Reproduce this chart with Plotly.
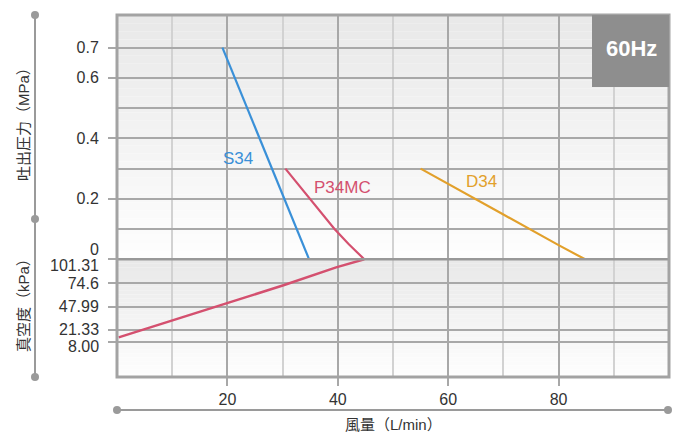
import plotly.graph_objects as go
from plotly.subplots import make_subplots

# flow in L/min, discharge pressure in MPa, vacuum as absolute kPa
s34_flow = [19.1, 34.8]
s34_press = [0.7, 0.0]

p34mc_flow = [30.5, 32.7, 35.0, 37.2, 39.4, 42.0, 44.8]
p34mc_press = [0.3, 0.25, 0.2, 0.15, 0.1, 0.05, 0.0]
p34mc_vac_flow = [0.3, 10.3, 20.0, 30.3, 39.7, 44.8]
p34mc_vac_kpa = [13.6, 33.1, 51.8, 72.4, 92.3, 101.31]

d34_flow = [55.0, 64.7, 70.0, 80.0, 84.8]
d34_press = [0.3, 0.2, 0.148, 0.047, 0.0]

press_ticks = [0, 0.2, 0.4, 0.6, 0.7]
press_labels = ["", "0.2", "0.4", "0.6", "0.7"]
vac_ticks = [101.31, 74.6, 47.99, 21.33, 8.0]
vac_labels = ["", "74.6", "47.99", "", ""]

BLUE = "#3a90d8"
PINK = "#d4506f"
ORANGE = "#e2a02b"
GRID = "#a8a8a8"
GRID_LIGHT = "#d2d2d2"
TXT = "#333333"
FONT = "Liberation Sans, Noto Sans CJK JP"

W, H = 673, 432
L, R, T, B = 117, 4, 15, 55
PW, PH = W - L - R, H - T - B


def px(x):
    return (x - L) / PW


def py(y):
    return (H - B - y) / PH


def note(text, x, y, size, color, **kw):
    return dict(text=text, x=px(x), y=py(y), xref="paper", yref="paper", showarrow=False,
                xanchor=kw.pop("xanchor", "center"), yanchor="middle",
                font=dict(size=size, color=color, family=FONT, weight=kw.pop("weight", "normal")), **kw)


split = py(259.3)

fig = make_subplots(rows=2, cols=1, shared_xaxes=True, vertical_spacing=0)

fig.add_trace(go.Scatter(x=s34_flow, y=s34_press, mode="lines",
                         line=dict(color=BLUE, width=2.2)), row=1, col=1)
fig.add_trace(go.Scatter(x=p34mc_flow, y=p34mc_press, mode="lines",
                         line=dict(color=PINK, width=2.2)), row=1, col=1)
fig.add_trace(go.Scatter(x=d34_flow, y=d34_press, mode="lines",
                         line=dict(color=ORANGE, width=2.2)), row=1, col=1)
fig.add_trace(go.Scatter(x=p34mc_vac_flow, y=p34mc_vac_kpa, mode="lines",
                         line=dict(color=PINK, width=2.5)), row=2, col=1)

# background gradient bands
shapes = []
n = 30
for (y0, y1) in [(split, 1.0), (0.0, split)]:
    for i in range(n):
        a = y1 - (y1 - y0) * i / n
        b = y1 - (y1 - y0) * (i + 1) / n
        g = int(233 + (254 - 233) * i / (n - 1))
        shapes.append(dict(type="rect", xref="paper", yref="paper", x0=0, x1=1, y0=b, y1=a,
                           fillcolor=f"rgb({g},{g},{g})", line=dict(width=0), layer="below"))

# divider and frame
shapes.append(dict(type="line", xref="paper", yref="paper", x0=0, x1=1, y0=split, y1=split,
                   line=dict(color="#999999", width=2.5)))
shapes.append(dict(type="rect", xref="paper", yref="paper", x0=0, x1=1, y0=0, y1=1,
                   line=dict(color="#a3a3a3", width=3)))
# 60Hz badge
shapes.append(dict(type="rect", xref="paper", yref="paper", x0=px(592), x1=1, y0=py(87), y1=1,
                   fillcolor="#8e8e8e", line=dict(width=0)))

# decorative axis rails
DEC = "#9a9a9a"
shapes.append(dict(type="line", xref="paper", yref="paper", x0=px(35), x1=px(35), y0=py(15), y1=py(377),
                   line=dict(color=DEC, width=2)))
shapes.append(dict(type="line", xref="paper", yref="paper", x0=px(117), x1=px(668), y0=py(410), y1=py(410),
                   line=dict(color=DEC, width=2)))
for (cx, cy) in [(35, 15), (35, 219), (35, 377), (117, 410), (668, 410)]:
    shapes.append(dict(type="circle", xref="paper", yref="paper",
                       x0=px(cx - 4), x1=px(cx + 4), y0=py(cy + 4), y1=py(cy - 4),
                       fillcolor=DEC, line=dict(width=0)))

annotations = [
    note("60Hz", 631, 49, 22, "white", weight="bold"),
    note("S34", 237.5, 158, 17, BLUE),
    note("P34MC", 342, 187, 17, PINK),
    note("D34", 481, 181, 17, ORANGE),
    note("0", 101, 250, 16, TXT, xanchor="right"),
    note("101.31", 101, 265, 16, TXT, xanchor="right"),
    note("21.33", 101, 329, 16, TXT, xanchor="right"),
    note("8.00", 101, 346, 16, TXT, xanchor="right"),
    note("吐出圧力（MPa）", 23, 121, 15, TXT, textangle=-90),
    note("真空度（kPa）", 23, 302, 15, TXT, textangle=-90),
    note("風量（L/min）", 393, 424, 15, TXT),
]

xcommon = dict(range=[0, 100], tick0=0, dtick=20, showgrid=True, gridcolor=GRID, gridwidth=1.5,
               zeroline=False, showline=False, automargin=False,
               minor=dict(dtick=10, tick0=0, showgrid=True, gridcolor=GRID_LIGHT, gridwidth=1.5, ticks=""))
fig.update_xaxes(**xcommon, showticklabels=False, ticks="", row=1, col=1)
fig.update_xaxes(**xcommon, ticks="outside", ticklen=8, tickcolor=GRID, tickwidth=1.5,
                 tickvals=[20, 40, 60, 80], tickfont=dict(size=16, color=TXT, family=FONT),
                 row=2, col=1)
fig.update_yaxes(range=[0, 0.808], tickvals=press_ticks, ticktext=press_labels, showgrid=True,
                 gridcolor=GRID, gridwidth=1.5, zeroline=False, ticks="outside", ticklen=8,
                 tickcolor=GRID, tickwidth=1.5, ticklabelstandoff=6, automargin=False,
                 tickfont=dict(size=16, color=TXT, family=FONT),
                 minor=dict(tickmode="array", tickvals=[0.1, 0.3, 0.5], showgrid=True,
                            gridcolor=GRID, gridwidth=1.5, ticks=""),
                 domain=[split, 1], row=1, col=1)
fig.update_yaxes(range=[-31, 101.31], tickvals=vac_ticks, ticktext=vac_labels, showgrid=True,
                 gridcolor=GRID, gridwidth=1.5, zeroline=False, ticks="outside", ticklen=8,
                 tickcolor=GRID, tickwidth=1.5, ticklabelstandoff=6, automargin=False,
                 tickfont=dict(size=16, color=TXT, family=FONT),
                 domain=[0, split], row=2, col=1)

fig.update_layout(width=W, height=H, margin=dict(l=L, r=R, t=T, b=B, autoexpand=False),
                  paper_bgcolor="white", plot_bgcolor="white", showlegend=False,
                  shapes=shapes, annotations=annotations, font=dict(family=FONT))

# the page's default body margin would push the figure off the window
fig.write_html("out.html", config={"displayModeBar": False},
               post_script="document.body.style.margin='0';")
